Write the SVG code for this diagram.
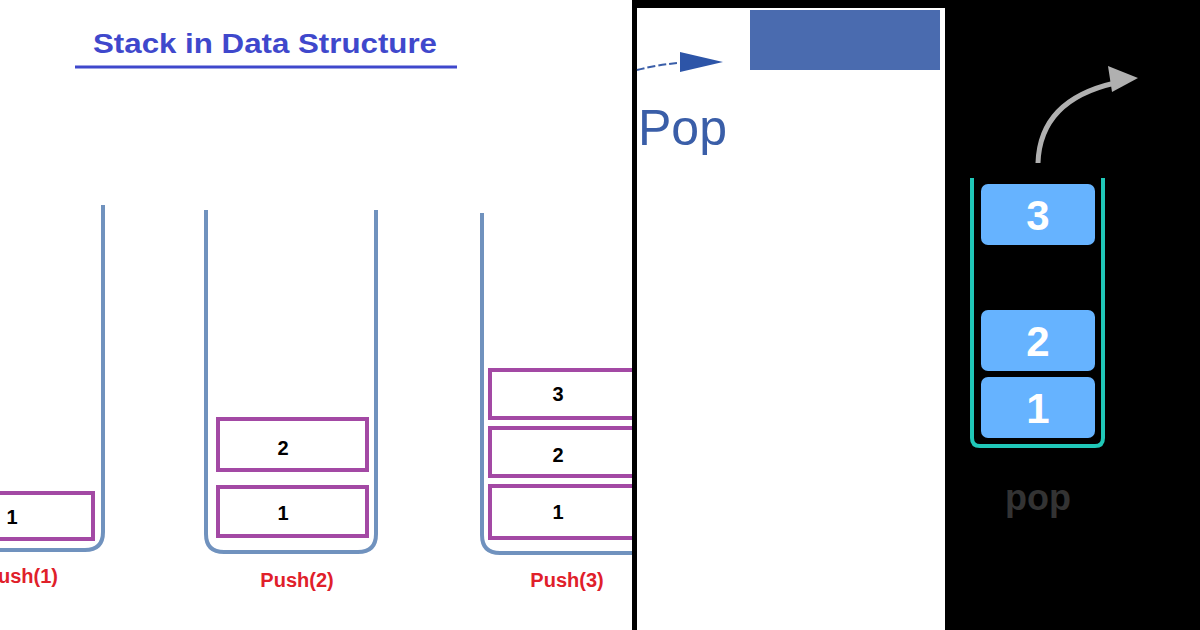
<svg xmlns="http://www.w3.org/2000/svg" width="1200" height="630" viewBox="0 0 1200 630">
<style>
.tube{fill:none;stroke:#7092be;stroke-width:4}
.box{fill:#fff;stroke:#a349a4;stroke-width:4}
.num{font-family:"Liberation Sans",sans-serif;font-weight:bold;font-size:20px;fill:#000;text-anchor:middle}
.lbl{font-family:"Liberation Sans",sans-serif;font-weight:bold;font-size:20px;fill:#e0202a;text-anchor:middle}
.rb{fill:#66b3ff}
.rn{font-family:"Liberation Sans",sans-serif;font-weight:bold;font-size:42px;fill:#fff;text-anchor:middle}
</style>
<rect width="1200" height="630" fill="#fff"/>
<text x="265" y="53" font-family="Liberation Sans, sans-serif" font-weight="bold" font-size="28" fill="#3f48cc" text-anchor="middle" textLength="344" lengthAdjust="spacingAndGlyphs">Stack in Data Structure</text>
<line x1="75" y1="67" x2="457" y2="67" stroke="#3f48cc" stroke-width="3"/>
<g id="stack1">
<path class="tube" d="M103,205 V532 Q103,550 85,550 H-10"/>
<rect class="box" x="-10" y="493" width="103" height="46"/>
<text class="num" x="12" y="524">1</text>
<text class="lbl" x="-2" y="583" style="text-anchor:start">ush(1)</text>
</g>
<g id="stack2">
<path class="tube" d="M206,210 V534 Q206,552 224,552 H358 Q376,552 376,534 V210"/>
<rect class="box" x="218" y="419" width="149" height="51"/>
<text class="num" x="283" y="455">2</text>
<rect class="box" x="218" y="487" width="149" height="49"/>
<text class="num" x="283" y="520">1</text>
<text class="lbl" x="297" y="587">Push(2)</text>
</g>
<g id="stack3">
<path class="tube" d="M482,213 V535 Q482,553 500,553 H640"/>
<rect class="box" x="490" y="370" width="150" height="48"/>
<text class="num" x="558" y="401">3</text>
<rect class="box" x="490" y="428" width="150" height="48"/>
<text class="num" x="558" y="462">2</text>
<rect class="box" x="490" y="486" width="150" height="52"/>
<text class="num" x="558" y="519">1</text>
<text class="lbl" x="567" y="587">Push(3)</text>
</g>
<rect x="632" y="0" width="568" height="630" fill="#000"/>
<rect x="637" y="8" width="308" height="622" fill="#fff"/>
<g id="middle">
<rect x="750" y="10" width="190" height="60" fill="#4a6baf"/>
<path d="M637,70 Q660,64 690,62" fill="none" stroke="#3a5ea8" stroke-width="2" stroke-dasharray="8,3"/>
<polygon points="680,52 723,62 680,72" fill="#2d55a8"/>
<text x="638" y="145" font-family="Liberation Sans, sans-serif" font-size="50" fill="#3a5ea8">Pop</text>
</g>
<g id="right">
<path d="M1038,163 Q1040,100 1115,83" fill="none" stroke="#b0b0b0" stroke-width="5"/>
<polygon points="1108,66 1138,78 1112,92" fill="#b0b0b0"/>
<path d="M972,178 V438 Q972,446 980,446 H1095 Q1103,446 1103,438 V178" fill="none" stroke="#20c8b8" stroke-width="4"/>
<rect class="rb" x="981" y="184" width="114" height="61" rx="7"/>
<text class="rn" x="1038" y="230">3</text>
<rect class="rb" x="981" y="310" width="114" height="61" rx="7"/>
<text class="rn" x="1038" y="356">2</text>
<rect class="rb" x="981" y="377" width="114" height="61" rx="7"/>
<text class="rn" x="1038" y="423">1</text>
<text x="1038" y="510" font-family="Liberation Sans, sans-serif" font-weight="bold" font-size="36" fill="#333" text-anchor="middle">pop</text>
</g>
</svg>
